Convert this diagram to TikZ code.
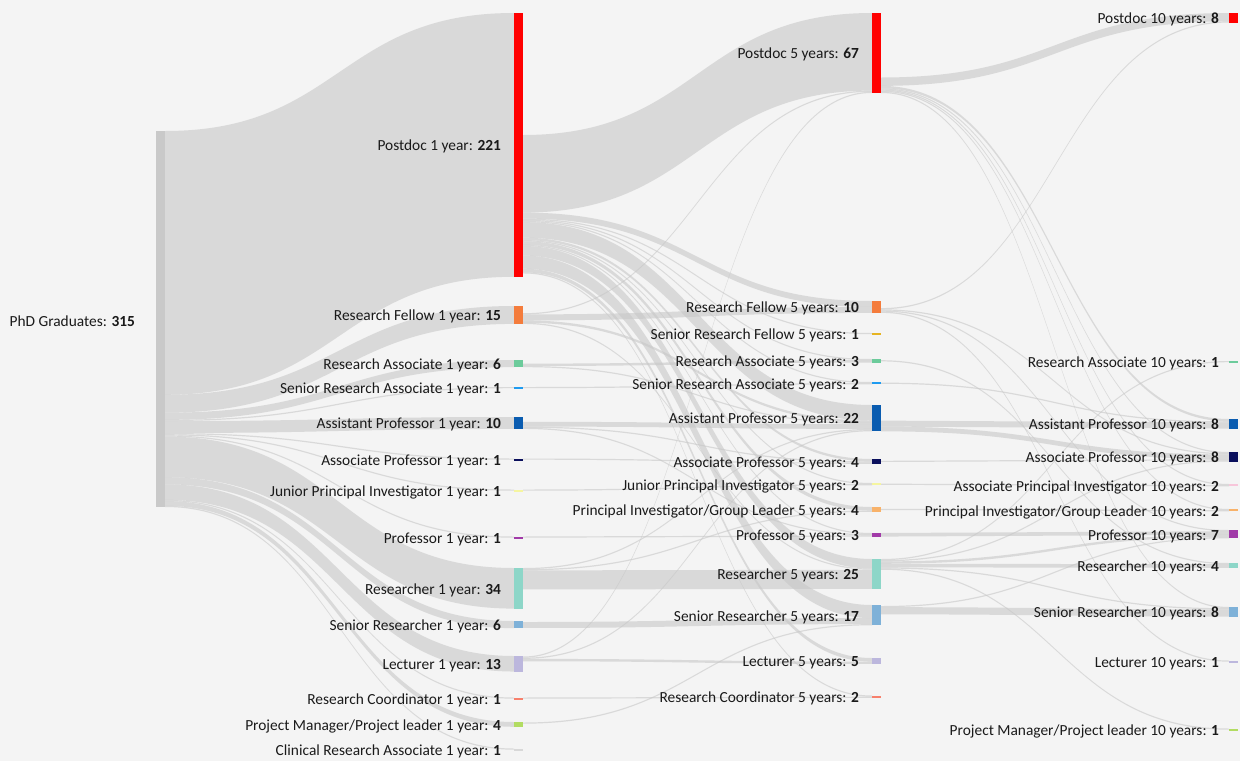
\documentclass[tikz,border=0pt]{standalone}
\usepackage{fontspec}
\setmainfont{Carlito}
\usetikzlibrary{calc}
\pgfdeclarelayer{bglayer}
\pgfdeclarelayer{linklayer}
\pgfsetlayers{bglayer,linklayer,main}
\definecolor{cBG}{HTML}{F4F4F4}
\definecolor{cLINK}{HTML}{C8C8C8}
\definecolor{cTXT}{HTML}{1A1A1A}
\definecolor{cPHD}{HTML}{C9C9C9}
\definecolor{cPD}{HTML}{FF0000}
\definecolor{cRF}{HTML}{F47C3C}
\definecolor{cSRF}{HTML}{E6B422}
\definecolor{cRA}{HTML}{6CCB9B}
\definecolor{cSRA}{HTML}{1E9BF0}
\definecolor{cAP}{HTML}{0A5CB0}
\definecolor{cASP}{HTML}{0A0F5C}
\definecolor{cJPI}{HTML}{F5F5A0}
\definecolor{cAPI}{HTML}{F7C6DA}
\definecolor{cPI}{HTML}{F8B26A}
\definecolor{cPR}{HTML}{A13AA8}
\definecolor{cRS}{HTML}{8DD6C8}
\definecolor{cSR}{HTML}{7EB1D8}
\definecolor{cLE}{HTML}{BCB7DD}
\definecolor{cRC}{HTML}{F7806C}
\definecolor{cPM}{HTML}{B2DC62}
\definecolor{cCRA}{HTML}{D8D8D8}
\tikzset{
  skbar/.style={rectangle, draw=none, inner sep=0pt, outer sep=0pt, minimum width=9pt},
  sklabel/.style={inner sep=0pt, outer sep=0pt, text=cTXT, font=\fontsize{15.4}{18}\selectfont},
  sklink/.style={fill=cLINK, fill opacity=0.6, draw=none},
}
\makeatletter
\def\skk{1.19365}
\def\skgap{13}
\newcommand\sknode[7]{%
  \pgfmathsetmacro\sk@h{max(#4*\skk,2)}%
  \expandafter\xdef\csname skout@#1\endcsname{#6}%
  \expandafter\xdef\csname skin@#1\endcsname{0}%
  \node[skbar, fill=#5, minimum height=\sk@h pt, anchor=north west] (#1) at (#2,#3) {};%
  \node[sklabel, anchor=east] (#1-lbl) at ([xshift=-\skgap pt, yshift=-1.8pt]#1.west) {#7: \textbf{#4}};%
}
\newcommand\skflow[3]{%
  \edef\sk@oa{\csname skout@#1\endcsname}%
  \edef\sk@ob{\csname skin@#2\endcsname}%
  \pgfmathsetmacro\sk@w{#3*\skk}%
  \pgfmathsetmacro\sk@oaa{\sk@oa+\sk@w}%
  \pgfmathsetmacro\sk@obb{\sk@ob+\sk@w}%
  \coordinate (skA) at ([yshift=-\sk@oa pt]#1.north east);%
  \coordinate (skAA) at ([yshift=-\sk@oaa pt]#1.north east);%
  \coordinate (skB) at ([yshift=-\sk@ob pt]#2.north west);%
  \coordinate (skBB) at ([yshift=-\sk@obb pt]#2.north west);%
  \coordinate (skM) at ($(skA)!.5!(skB)$);%
  \begin{pgfonlayer}{linklayer}%
  \fill[sklink] (skA) .. controls (skM|-skA) and (skM|-skB) .. (skB) -- (skBB) .. controls (skM|-skBB) and (skM|-skAA) .. (skAA) -- cycle;%
  \end{pgfonlayer}%
  \expandafter\xdef\csname skout@#1\endcsname{\sk@oaa}%
  \expandafter\xdef\csname skin@#2\endcsname{\sk@obb}%
}
\makeatother
\begin{document}
\begin{tikzpicture}[x=1pt,y=-1pt]
\begin{pgfonlayer}{bglayer}
\fill[cBG] (0,0) rectangle (1240,761);
\end{pgfonlayer}
\path[use as bounding box] (0,0) rectangle (1240,761);
% column 1
\def\skgap{21}
\sknode{phd}{156}{131}{315}{cPHD}{0}{PhD Graduates}
% column 2
\def\skgap{13}
\sknode{pdA}{514}{13}{221}{cPD}{122}{Postdoc 1 year}
\sknode{rfA}{514}{306}{15}{cRF}{7.2}{Research Fellow 1 year}
\sknode{raA}{514}{360}{6}{cRA}{3.6}{Research Associate 1 year}
\sknode{sraA}{514}{387}{1}{cSRA}{0}{Senior Research Associate 1 year}
\sknode{apA}{514}{417}{10}{cAP}{4.8}{Assistant Professor 1 year}
\sknode{aspA}{514}{458.5}{1}{cASP}{0}{Associate Professor 1 year}
\sknode{jpiA}{514}{489.5}{1}{cJPI}{0}{Junior Principal Investigator 1 year}
\sknode{prA}{514}{536.5}{1}{cPR}{0}{Professor 1 year}
\sknode{rsA}{514}{568}{34}{cRS}{0}{Researcher 1 year}
\sknode{srA}{514}{621}{6}{cSR}{1}{Senior Researcher 1 year}
\sknode{leA}{514}{656}{13}{cLE}{0.5}{Lecturer 1 year}
\sknode{rcA}{514}{697.5}{1}{cRC}{0}{Research Coordinator 1 year}
\sknode{pmA}{514}{722}{4}{cPM}{0.5}{Project Manager/Project leader 1 year}
\sknode{craA}{514}{748.5}{1}{cCRA}{0}{Clinical Research Associate 1 year}
% column 3
\sknode{pdB}{872}{13}{67}{cPD}{64.5}{Postdoc 5 years}
\sknode{rfB}{872}{301}{10}{cRF}{7.1}{Research Fellow 5 years}
\sknode{srfB}{872}{333}{1}{cSRF}{0}{Senior Research Fellow 5 years}
\sknode{raB}{872}{359}{3}{cRA}{1.2}{Research Associate 5 years}
\sknode{sraB}{872}{382}{2}{cSRA}{0.6}{Senior Research Associate 5 years}
\sknode{apB}{872}{405}{22}{cAP}{15.6}{Assistant Professor 5 years}
\sknode{aspB}{872}{459}{4}{cASP}{1.8}{Associate Professor 5 years}
\sknode{jpiB}{872}{483}{2}{cJPI}{0.6}{Junior Principal Investigator 5 years}
\sknode{piB}{872}{507}{4}{cPI}{1.8}{Principal Investigator/Group Leader 5 years}
\sknode{prB}{872}{533}{3}{cPR}{0}{Professor 5 years}
\sknode{rsB}{872}{559}{25}{cRS}{0}{Researcher 5 years}
\sknode{srB}{872}{605}{17}{cSR}{1}{Senior Researcher 5 years}
\sknode{leB}{872}{658}{5}{cLE}{0}{Lecturer 5 years}
\sknode{rcB}{872}{695.5}{2}{cRC}{0}{Research Coordinator 5 years}
% column 4
\def\skgap{10}
\sknode{pdC}{1229}{13}{8}{cPD}{0}{Postdoc 10 years}
\sknode{raC}{1229}{361}{1}{cRA}{0}{Research Associate 10 years}
\sknode{apC}{1229}{419}{8}{cAP}{0}{Assistant Professor 10 years}
\sknode{aspC}{1229}{452}{8}{cASP}{0}{Associate Professor 10 years}
\sknode{apiC}{1229}{484}{2}{cAPI}{0}{Associate Principal Investigator 10 years}
\sknode{piC}{1229}{509}{2}{cPI}{0}{Principal Investigator/Group Leader 10 years}
\sknode{prC}{1229}{530}{7}{cPR}{0}{Professor 10 years}
\sknode{rsC}{1229}{563}{4}{cRS}{0}{Researcher 10 years}
\sknode{srC}{1229}{607}{8}{cSR}{0}{Senior Researcher 10 years}
\sknode{leC}{1229}{660.5}{1}{cLE}{0}{Lecturer 10 years}
\sknode{pmC}{1229}{728.5}{1}{cPM}{0}{Project Manager/Project leader 10 years}
% flows: PhD -> 1 year
\skflow{phd}{pdA}{221}
\skflow{phd}{rfA}{15}
\skflow{phd}{raA}{6}
\skflow{phd}{sraA}{1}
\skflow{phd}{apA}{10}
\skflow{phd}{aspA}{1}
\skflow{phd}{jpiA}{1}
\skflow{phd}{prA}{1}
\skflow{phd}{rsA}{34}
\skflow{phd}{srA}{6}
\skflow{phd}{leA}{13}
\skflow{phd}{rcA}{1}
\skflow{phd}{pmA}{4}
\skflow{phd}{craA}{1}
% 1 year -> 5 years
\skflow{pdA}{pdB}{65}
\skflow{pdA}{rfB}{5}
\skflow{pdA}{srfB}{1}
\skflow{pdA}{raB}{1}
\skflow{pdA}{sraB}{1}
\skflow{pdA}{apB}{13}
\skflow{pdA}{aspB}{2}
\skflow{pdA}{jpiB}{1}
\skflow{pdA}{piB}{3}
\skflow{pdA}{prB}{1}
\skflow{pdA}{rsB}{8}
\skflow{pdA}{srB}{11}
\skflow{pdA}{leB}{3}
\skflow{pdA}{rcB}{1}
\skflow{rfA}{pdB}{1}
\skflow{rfA}{rfB}{5}
\skflow{rfA}{apB}{2}
\skflow{rfA}{rsB}{1}
\skflow{raA}{raB}{2}
\skflow{raA}{apB}{1}
\skflow{sraA}{sraB}{1}
\skflow{apA}{apB}{4}
\skflow{apA}{aspB}{1}
\skflow{apA}{prB}{1}
\skflow{aspA}{aspB}{1}
\skflow{jpiA}{jpiB}{1}
\skflow{prA}{prB}{1}
\skflow{rsA}{apB}{1}
\skflow{rsA}{piB}{1}
\skflow{rsA}{rsB}{16}
\skflow{srA}{srB}{5}
\skflow{leA}{pdB}{1}
\skflow{leA}{apB}{1}
\skflow{leA}{leB}{2}
\skflow{rcA}{rcB}{1}
\skflow{pmA}{srB}{1}
% 5 years -> 10 years
\skflow{pdB}{pdC}{7}
\skflow{pdB}{apC}{2}
\skflow{pdB}{aspC}{1}
\skflow{pdB}{apiC}{1}
\skflow{pdB}{piC}{1}
\skflow{pdB}{srC}{1}
\skflow{rfB}{pdC}{1}
\skflow{rfB}{aspC}{1}
\skflow{rfB}{prC}{1}
\skflow{rfB}{leC}{1}
\skflow{raB}{rsC}{1}
\skflow{sraB}{apC}{1}
\skflow{apB}{apC}{5}
\skflow{apB}{aspC}{4}
\skflow{aspB}{aspC}{1}
\skflow{jpiB}{apiC}{1}
\skflow{piB}{piC}{1}
\skflow{prB}{prC}{3}
\skflow{rsB}{raC}{1}
\skflow{rsB}{aspC}{1}
\skflow{rsB}{prC}{2}
\skflow{rsB}{rsC}{3}
\skflow{rsB}{srC}{1}
\skflow{rsB}{pmC}{1}
\skflow{srB}{prC}{1}
\skflow{srB}{srC}{6}
\end{tikzpicture}
\end{document}
